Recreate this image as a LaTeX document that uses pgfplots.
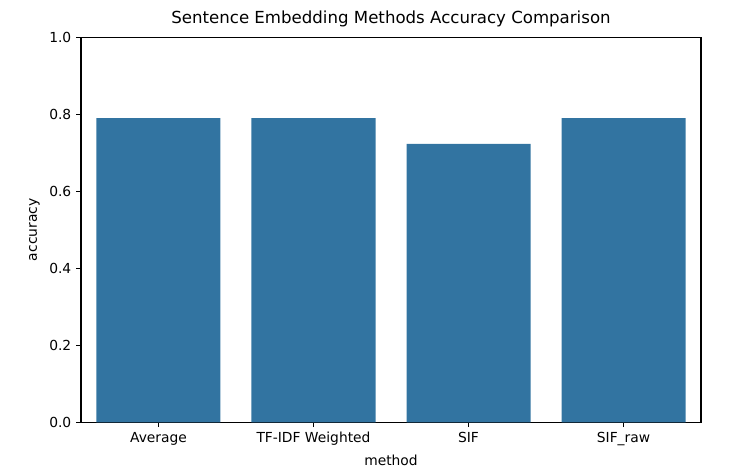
\documentclass[border=0pt]{standalone}
\usepackage{pgfplots}
\pgfplotsset{compat=1.18}
\usepackage{fontspec}
\setmainfont{DejaVu Sans}
\definecolor{sbblue}{HTML}{3274A1}
\begin{document}
\begin{tikzpicture}
\useasboundingbox (-0.81in,-0.517in) rectangle (6.57in,4.223in);
\begin{axis}[
  at={(0,0)}, anchor=south west,
  scale only axis, width=6.2in, height=3.85in,
  xmin=-0.5, xmax=3.5, ymin=0, ymax=1,
  xtick={0,1,2,3},
  xticklabels={Average,TF-IDF Weighted,SIF,SIF\_raw},
  ytick={0,0.2,0.4,0.6,0.8,1.0},
  yticklabel style={/pgf/number format/fixed,/pgf/number format/fixed zerofill,/pgf/number format/precision=1},
  /pgf/number format/assume math mode=true,
  tick align=outside, tick pos=left,
  major tick length=3.5pt,
  every tick/.style={black, line width=0.8pt},
  axis line style={line width=0.8pt},
  ticklabel style={font=\fontsize{10}{12}\selectfont},
  xlabel={method}, ylabel={accuracy},
  label style={font=\fontsize{10}{12}\selectfont},
  title={Sentence Embedding Methods Accuracy Comparison},
  title style={font=\fontsize{12}{14}\selectfont, yshift=-2pt},
  ybar, bar width=0.8,
]
\addplot[fill=sbblue, draw=none] coordinates {(0,0.790) (1,0.790) (2,0.723) (3,0.790)};
\end{axis}
\end{tikzpicture}
\end{document}
